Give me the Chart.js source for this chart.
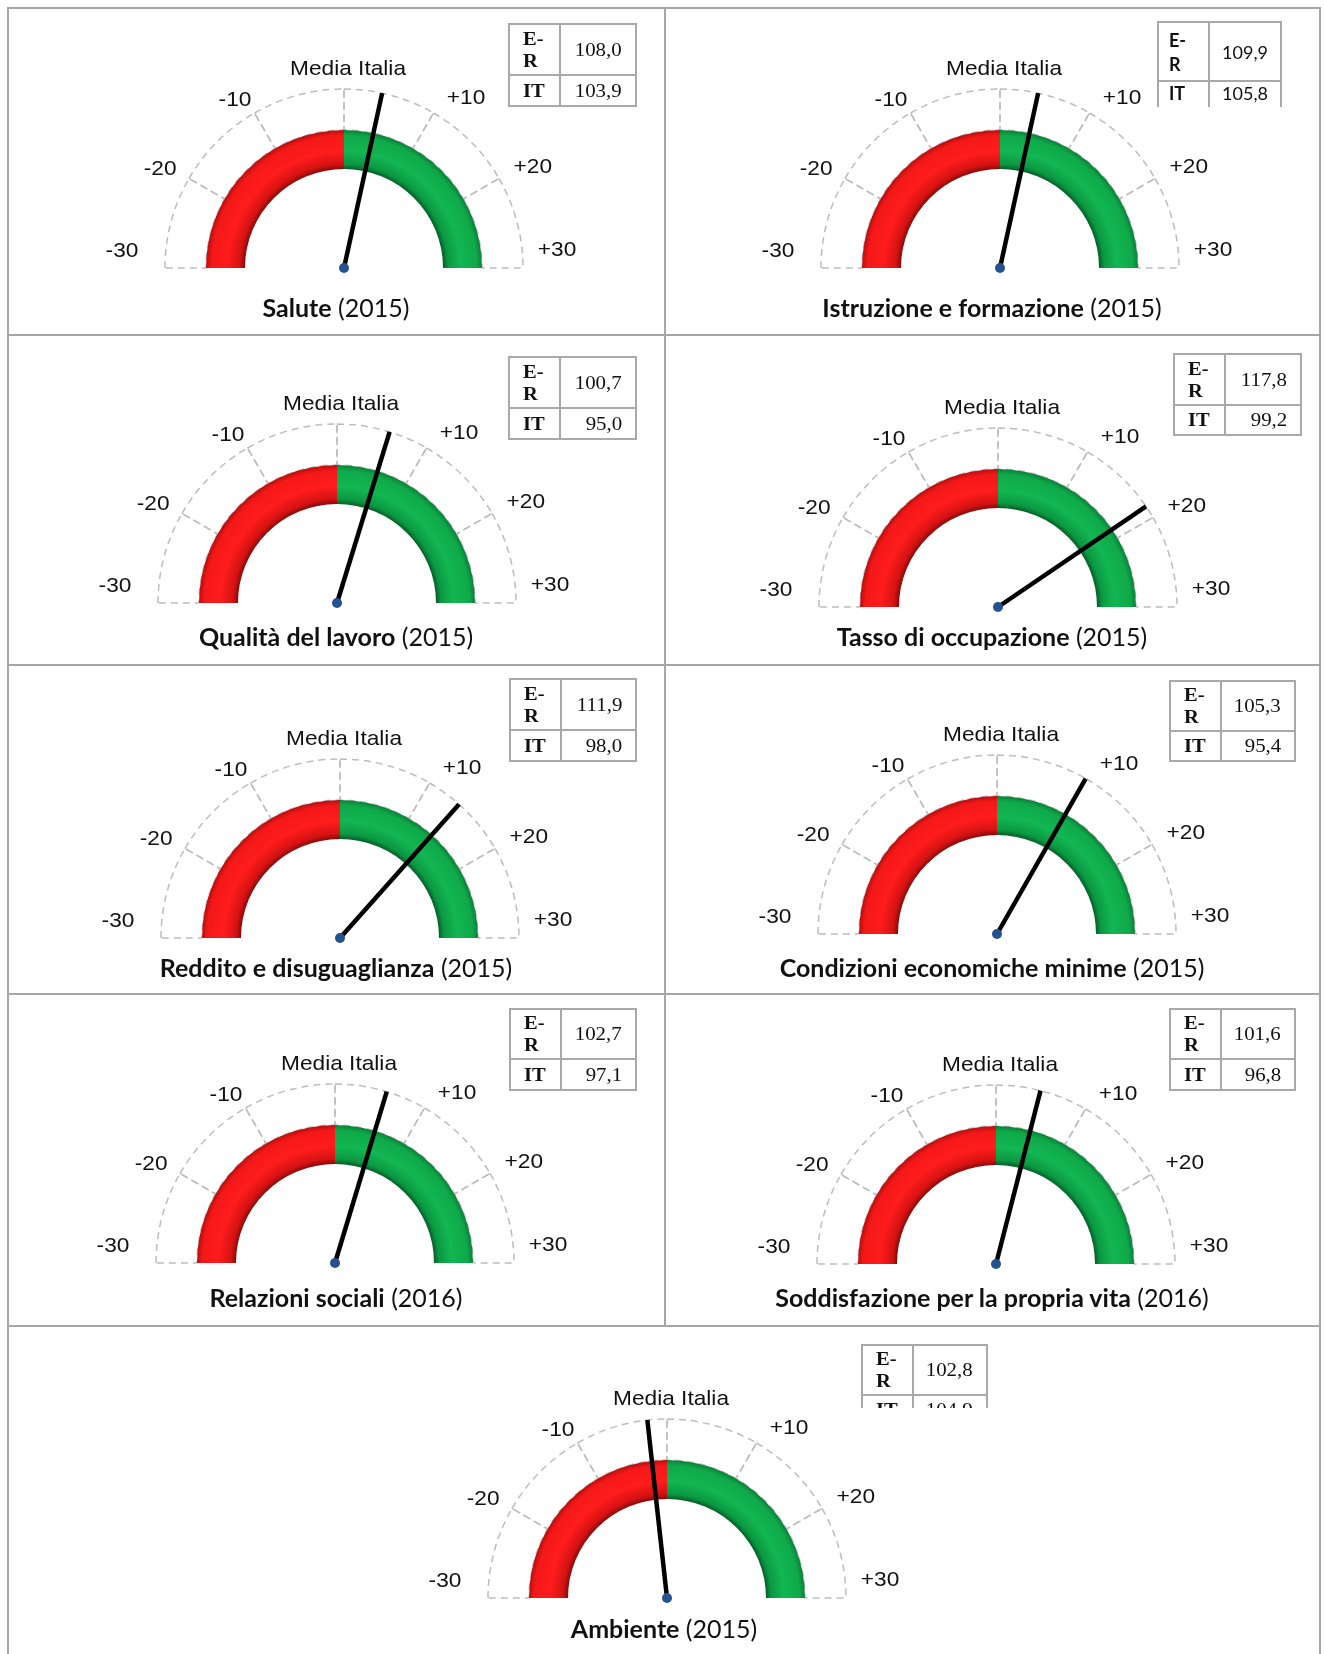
<!DOCTYPE html>
<html lang="it">
<head>
<meta charset="utf-8">
<title>Indicatori di benessere: Emilia-Romagna e Italia</title>
<script src="https://cdn.jsdelivr.net/npm/chart.js@4.4.1/dist/chart.umd.min.js"></script>
<style>
  body { margin:0; background:#fff; }
  #page { position:relative; width:1324px; height:1654px; overflow:hidden; }
  .rule { position:absolute; background:#a6a6a6; }
  .box { position:absolute; }
  .ttl { position:absolute; white-space:nowrap; font-family:Lato, "Open Sans", sans-serif; font-size:25px; color:#111; transform:translate(-50%,-50%); }
  .ttl b { font-weight:700; }
  .mini { position:absolute; overflow:hidden; }
  .mini table { border-collapse:collapse; table-layout:fixed; color:#111; }
  .mini td { border:2px solid #a9a9a9; padding:0; vertical-align:middle; box-sizing:border-box; }
  .mini td.k { width:51px; font-weight:700; text-align:left; padding-left:13px; line-height:22px; }
  .mini td.v { text-align:right; padding-right:13px; }
  .mini span { display:inline-block; }
  .serif table { font-family:"Liberation Serif","Times New Roman",serif; font-size:19px; }
  .serif td.k span { transform:scaleX(1.08); transform-origin:left center; }
  .serif td.v span { transform:scaleX(1.1); transform-origin:right center; }
  .sans table { font-family:Lato, sans-serif; font-size:18px; }
  .sans td.k { line-height:24px; padding-left:10px; }
  .sans td.v { text-align:center; padding-right:0; }
  .sans tr.r2 td { vertical-align:top; padding-top:0; line-height:22px; }
</style>
</head>
<body>
<div id="page"></div>
<script>
// indicator names and reference years
var titles = ['Salute', 'Istruzione e formazione', 'Qualità del lavoro', 'Tasso di occupazione',
  'Reddito e disuguaglianza', 'Condizioni economiche minime', 'Relazioni sociali',
  'Soddisfazione per la propria vita', 'Ambiente'];
var years = ['2015', '2015', '2015', '2015', '2015', '2015', '2016', '2016', '2015'];

// index values: Emilia-Romagna and Italy
var valER = [108.0, 109.9, 100.7, 117.8, 111.9, 105.3, 102.7, 101.6, 102.8];
var valIT = [103.9, 105.8, 95.0, 99.2, 98.0, 95.4, 97.1, 96.8, 104.9];
var rowLabels = ['E-R', 'IT'];

// gauge scale: -30 .. +30 around the Italian mean
var scaleMin = -30, scaleMax = 30;
var tickSteps = [10, 10, 10, 10, 10, 10];
var tickLabels = ['-30', '-20', '-10', 'Media Italia', '+10', '+20', '+30'];
var zoneValues = [30, 30];
var zoneLabels = ['sotto la media', 'sopra la media'];

// ---- layout (page pixels) ----
var R = 179, RING = 41, BAND = 39;
var cellBox = [[9, 9, 655, 326], [666, 9, 654, 326], [9, 337, 655, 327], [666, 337, 654, 327],
  [9, 666, 655, 328], [666, 666, 654, 328], [9, 996, 655, 329], [666, 996, 654, 329], [9, 1327, 1311, 327]];
var gaugeCenter = [[344, 268], [1000, 268], [337, 603], [998, 607], [340, 938], [997, 934],
  [335, 1263], [996, 1264], [667, 1598]];
var titleCenter = [[336, 307], [992, 307], [336, 636], [992, 636], [336, 967], [992, 967],
  [336, 1297], [992, 1297], [664, 1628]];
// small nudges of the tick labels (dx, dy)
var labelNudge = [[-4, 1], [5, -2], [0, 3], [4, 1], [13, 1], [0, -4], [-5, 0]];
// left, top, width, row1 height, row2 height, clip height, font
var tableBox = [[508, 23, 129, 51, 31, 0, 'serif'], [1157, 21, 125, 59, 30, 86, 'sans'],
  [508, 356, 129, 51, 31, 0, 'serif'], [1173, 353, 129, 51, 30, 0, 'serif'],
  [509, 678, 128, 51, 31, 0, 'serif'], [1169, 680, 127, 50, 30, 0, 'serif'],
  [509, 1008, 128, 50, 31, 0, 'serif'], [1169, 1008, 127, 50, 31, 0, 'serif'],
  [861, 1344, 127, 50, 30, 64, 'serif']];
var zoneShades = [['#8a0a0a', '#d41212', '#ff1c1c', '#f41818', '#b80e0e'],
  ['#065e29', '#0b9842', '#12b652', '#0fa94a', '#0a8038']];
var shadeStops = [0, 0.13, 0.45, 0.86, 1];

var page = document.getElementById('page');

function rule(x, y, w, h) {
  var d = document.createElement('div');
  d.className = 'rule';
  d.style.left = x + 'px'; d.style.top = y + 'px';
  d.style.width = w + 'px'; d.style.height = h + 'px';
  page.appendChild(d);
}
// outer frame and grid
rule(7, 7, 1314, 2);
rule(7, 7, 2, 1660);
rule(1319, 7, 2, 1660);
rule(663.7, 7, 2, 1319);
rule(7, 334.3, 1314, 2);
rule(7, 663.7, 1314, 2);
rule(7, 993.3, 1314, 2);
rule(7, 1324.6, 1314, 2);

function fmt(v) { return v.toFixed(1).replace('.', ','); }

var gaugeDeco = {
  id: 'gaugeDeco',
  afterDatasetsDraw: function(chart) {
    var ctx = chart.ctx;
    var ring = chart.getDatasetMeta(0).data;
    var x0 = ring[0].x, y0 = ring[0].y, r = ring[0].outerRadius;
    var angles = ring.map(function(a) { return a.startAngle; });
    angles.push(ring[ring.length - 1].endAngle);
    ctx.save();
    ctx.font = '21px "Liberation Sans", Arial, sans-serif';
    ctx.fillStyle = '#111';
    ctx.textAlign = 'center';
    ctx.textBaseline = 'middle';
    angles.forEach(function(a, i) {
      var phi = a + Math.PI / 2;
      var lx = x0 + 1.218 * r * Math.sin(phi) + labelNudge[i][0];
      var ly = y0 - 0.1 * r - 1.017 * r * Math.pow(Math.max(Math.cos(phi), 0), 1.2) + labelNudge[i][1];
      ctx.save();
      ctx.translate(lx, ly);
      ctx.scale(1.08, 1);
      ctx.fillText(tickLabels[i], 0, 0);
      ctx.restore();
    });
    // needle
    var nd = chart.getDatasetMeta(2).data[0];
    var ang = nd.endAngle;
    ctx.strokeStyle = '#000';
    ctx.lineWidth = 4.5;
    ctx.beginPath();
    ctx.moveTo(x0, y0);
    ctx.lineTo(x0 + r * Math.cos(ang), y0 + r * Math.sin(ang));
    ctx.stroke();
    ctx.fillStyle = '#24518f';
    ctx.beginPath();
    ctx.arc(x0, y0, 5, 0, Math.PI * 2);
    ctx.fill();
    ctx.restore();
  }
};

function makeGauge(i) {
  var b = cellBox[i], c = gaugeCenter[i];
  var box = document.createElement('div');
  box.className = 'box';
  box.style.left = b[0] + 'px'; box.style.top = b[1] + 'px';
  box.style.width = b[2] + 'px'; box.style.height = b[3] + 'px';
  var cv = document.createElement('canvas');
  box.appendChild(cv);
  page.appendChild(box);

  var s = 0.75;
  var diff = valER[i] - valIT[i];
  new Chart(cv, {
    type: 'doughnut',
    data: {
      labels: zoneLabels,
      datasets: [
        {
          data: tickSteps,
          weight: RING,
          order: 2,
          backgroundColor: 'rgba(0,0,0,0)',
          borderColor: '#bdbdbd',
          borderWidth: 1.5,
          hoverBorderWidth: 1.5,
          borderDash: [7, 5],
          offset: 0,
          hoverOffset: 0
        },
        {
          data: zoneValues,
          weight: BAND,
          order: 1,
          borderWidth: 0,
          hoverBorderWidth: 0,
          offset: 0,
          hoverOffset: 0,
          backgroundColor: function(ctx) {
            var sh = zoneShades[ctx.dataIndex];
            var a = ctx.chart.chartArea;
            if (!a) return sh[2];
            var cx = (a.left + a.right) / 2, cy = a.bottom - s;
            var g = ctx.chart.ctx.createRadialGradient(cx, cy, R - RING - BAND, cx, cy, R - RING);
            shadeStops.forEach(function(st, k) { g.addColorStop(st, sh[k]); });
            return g;
          }
        },
        {
          data: [diff - scaleMin, scaleMax - diff],
          weight: 0,
          order: 0,
          backgroundColor: 'rgba(0,0,0,0)',
          borderWidth: 0,
          hoverBorderWidth: 0,
          offset: 0,
          hoverOffset: 0
        }
      ]
    },
    options: {
      responsive: true,
      maintainAspectRatio: false,
      animation: false,
      events: [],
      rotation: -90,
      circumference: 180,
      cutout: ((R - RING - BAND) / R * 100) + '%',
      layout: {
        padding: {
          left: c[0] - b[0] - R - s,
          right: b[0] + b[2] - c[0] - R - s,
          top: c[1] - b[1] - R - s,
          bottom: b[1] + b[3] - c[1] - s
        }
      },
      plugins: { legend: { display: false }, tooltip: { enabled: false } }
    },
    plugins: [gaugeDeco]
  });

  var t = document.createElement('div');
  t.className = 'ttl';
  t.style.left = titleCenter[i][0] + 'px';
  t.style.top = titleCenter[i][1] + 'px';
  t.innerHTML = '<b>' + titles[i] + '</b> (' + years[i] + ')';
  page.appendChild(t);

  var L = tableBox[i];
  var w = document.createElement('div');
  w.className = 'mini ' + L[6];
  w.style.left = L[0] + 'px';
  w.style.top = L[1] + 'px';
  if (L[5]) w.style.height = L[5] + 'px';
  var er = rowLabels[0].split('-');
  w.innerHTML = '<table style="width:' + L[2] + 'px">' +
    '<tr style="height:' + L[3] + 'px"><td class="k"><span>' + er[0] + '-<br>' + er[1] + '</span></td>' +
    '<td class="v"><span>' + fmt(valER[i]) + '</span></td></tr>' +
    '<tr class="r2" style="height:' + L[4] + 'px"><td class="k"><span>' + rowLabels[1] + '</span></td>' +
    '<td class="v"><span>' + fmt(valIT[i]) + '</span></td></tr></table>';
  page.appendChild(w);
}

for (var i = 0; i < titles.length; i++) makeGauge(i);
</script>
</body>
</html>
